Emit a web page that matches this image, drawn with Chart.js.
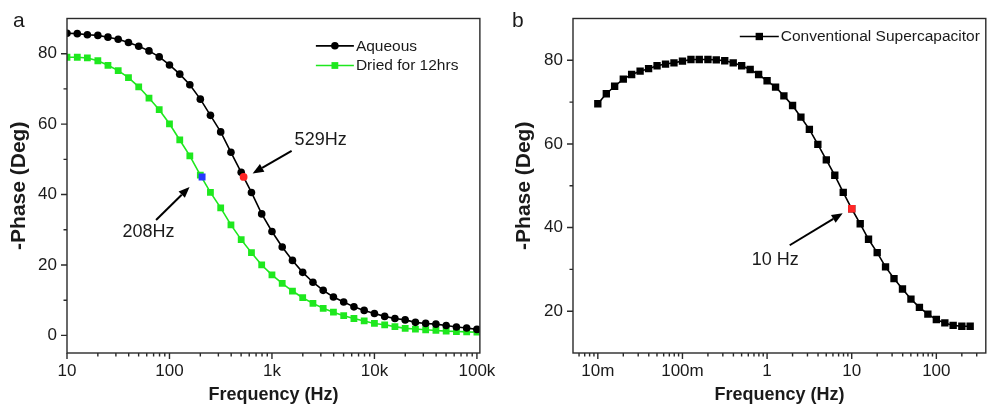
<!DOCTYPE html>
<html><head><meta charset="utf-8">
<script src="https://cdn.jsdelivr.net/npm/chart.js@4/dist/chart.umd.min.js"></script>
<style>
html,body{margin:0;padding:0;background:#fff;}
#wrap{position:relative;width:991px;height:414px;overflow:hidden;background:#fff;}
#ca{position:absolute;left:0;top:0;z-index:2;}
#cb{position:absolute;left:495px;top:0;z-index:1;}
</style></head><body>
<div id="wrap"><canvas id="ca" width="505" height="414"></canvas><canvas id="cb" width="496" height="414"></canvas></div>
<script>
// ---------- DATA ----------
const freqA = [10,12.6,15.8,20,25.1,31.6,39.8,50.1,63.1,79.4,
  100,126,158,200,251,316,398,501,631,794,
  1000,1259,1585,1995,2512,3162,3981,5012,6310,7943,
  10000,12589,15849,19953,25119,31623,39811,50119,63096,79433,100000];
const aqueousPhase = [85.8,85.7,85.4,85.2,84.7,84.1,83.2,82.1,80.8,79.1,
  76.8,74.2,71.2,67.1,62.5,57.8,52.0,46.3,40.6,34.5,
  29.5,25.1,21.3,17.9,15.1,12.8,10.9,9.5,8.1,7.1,
  6.2,5.4,4.8,4.4,3.7,3.4,3.2,2.8,2.4,2.1,1.7];
const driedPhase = [79.0,79.0,78.8,78.0,76.7,75.2,73.2,70.6,67.4,64.1,
  60.1,55.5,51.0,45.5,40.6,36.2,31.4,27.2,23.5,20.0,
  17.2,14.8,12.6,10.7,9.1,7.7,6.6,5.6,4.8,4.1,
  3.4,3.0,2.5,2.0,1.8,1.6,1.4,1.2,1.1,1.0,0.9];
const seriesLabelsA = ['Aqueous','Dried for 12hrs'];

const freqB = [0.01,0.0126,0.0158,0.02,0.0251,0.0316,0.0398,0.0501,0.0631,0.0794,
  0.1,0.126,0.158,0.2,0.251,0.316,0.398,0.501,0.631,0.794,
  1,1.26,1.58,2,2.51,3.16,3.98,5.01,6.31,7.94,
  10,12.6,15.8,20,25.1,31.6,39.8,50.1,63.1,79.4,
  100,126,158,200,251];
const convPhase = [69.6,72.0,73.8,75.5,76.6,77.4,78.0,78.7,79.1,79.4,
  79.8,80.2,80.2,80.2,80.1,79.9,79.4,78.7,77.8,76.6,
  75.1,73.6,71.5,69.2,66.4,63.5,59.9,56.2,52.5,48.4,
  44.5,40.9,37.2,34.0,30.6,27.8,25.3,22.9,20.9,19.3,
  18.0,17.2,16.6,16.4,16.4];
const seriesLabelsB = ['Conventional Supercapacitor'];

// highlighted points and their labels
const aqMarkFreq = [529], aqMarkPhase = [45], aqMarkLabel = ['529Hz'];
const drMarkFreq = [208], drMarkPhase = [45], drMarkLabel = ['208Hz'];
const cvMarkFreq = [10], cvMarkPhase = [44.5], cvMarkLabel = ['10 Hz'];

// axes
const xTicksA = [10,100,1000,10000,100000];
const xTickLabelsA = ['10','100','1k','10k','100k'];
const yTicksA = [0,20,40,60,80];
const yMinorA = [10,30,50,70];
const xTicksB = [0.01,0.1,1,10,100];
const xTickLabelsB = ['10m','100m','1','10','100'];
const yTicksB = [20,40,60,80];
const yMinorB = [30,50,70];
const xTitle = 'Frequency (Hz)';
const yTitle = '-Phase (Deg)';
const panelLabels = ['a','b'];

// ---------- STYLE ----------
const FONT = "'Liberation Sans', Arial, Helvetica, sans-serif";
const TXT = '#1a1a1a';
const GREEN = '#1ee81e', RED = '#ff2626', BLUE = '#2638ff', BLACK = '#000000';
Chart.defaults.font.family = FONT;
Chart.defaults.color = TXT;

const pts = (xs, ys) => xs.map((x, i) => ({x: x, y: ys[i]}));

function axesPlugin(minorY) {
  return { id: 'axesDeco', afterDraw(chart) {
    const {ctx, chartArea: a, scales: {x, y}} = chart;
    ctx.save();
    ctx.strokeStyle = '#2a2a2a'; ctx.lineWidth = 1.4;
    ctx.strokeRect(a.left, a.top, a.right - a.left, a.bottom - a.top);
    ctx.beginPath();
    x.ticks.forEach(t => { const p = x.getPixelForValue(t.value); ctx.moveTo(p, a.bottom); ctx.lineTo(p, a.bottom + 6); });
    const lo = Math.floor(Math.log10(x.min)), hi = Math.ceil(Math.log10(x.max));
    for (let d = lo; d <= hi; d++) for (let m = 2; m <= 9; m++) {
      const v = m * Math.pow(10, d);
      if (v > x.min && v < x.max) { const p = x.getPixelForValue(v); ctx.moveTo(p, a.bottom); ctx.lineTo(p, a.bottom + 3.5); }
    }
    y.ticks.forEach(t => { const p = y.getPixelForValue(t.value); ctx.moveTo(a.left, p); ctx.lineTo(a.left - 6, p); });
    minorY.forEach(v => { const p = y.getPixelForValue(v); ctx.moveTo(a.left, p); ctx.lineTo(a.left - 3.5, p); });
    ctx.stroke();
    ctx.restore();
  }};
}

function marker(ctx, style, r, x, y) {
  ctx.beginPath();
  if (style === 'rect') { const s = r * Math.SQRT1_2; ctx.rect(x - s, y - s, 2 * s, 2 * s); }
  else ctx.arc(x, y, r, 0, Math.PI * 2);
  ctx.fill();
}

function legendPlugin(items) {
  return { id: 'boxLegend', afterDraw(chart) {
    const {ctx, chartArea: a} = chart;
    ctx.save();
    items.forEach(it => {
      const ds = chart.data.datasets[it.ds];
      const y = a.top + it.dy;
      ctx.strokeStyle = ds.borderColor; ctx.lineWidth = 1.7;
      ctx.beginPath(); ctx.moveTo(a.right + it.x1, y); ctx.lineTo(a.right + it.x2, y); ctx.stroke();
      ctx.fillStyle = ds.pointBackgroundColor;
      marker(ctx, ds.pointStyle, ds.pointRadius, a.right + (it.x1 + it.x2) / 2, y);
      ctx.fillStyle = TXT; ctx.font = '15.5px ' + FONT; ctx.textBaseline = 'middle'; ctx.textAlign = 'left';
      ctx.fillText(ds.label, a.right + it.tx, y + 0.5);
    });
    ctx.restore();
  }};
}

function arrowPlugin(items) {
  return { id: 'arrows', afterDraw(chart) {
    const {ctx} = chart;
    ctx.save();
    items.forEach(it => {
      const el = chart.getDatasetMeta(it.ds).data[0];
      const px = el.x, py = el.y;
      const tx = px + it.tip[0], ty = py + it.tip[1];
      const sx = px + it.tail[0], sy = py + it.tail[1];
      const ang = Math.atan2(ty - sy, tx - sx);
      const L = 11, W = 4.5;
      const bx = tx - L * Math.cos(ang), by = ty - L * Math.sin(ang);
      ctx.strokeStyle = BLACK; ctx.fillStyle = BLACK; ctx.lineWidth = 2;
      ctx.beginPath(); ctx.moveTo(sx, sy); ctx.lineTo(bx, by); ctx.stroke();
      ctx.beginPath(); ctx.moveTo(tx, ty);
      ctx.lineTo(bx + W * Math.sin(ang), by - W * Math.cos(ang));
      ctx.lineTo(bx - W * Math.sin(ang), by + W * Math.cos(ang));
      ctx.closePath(); ctx.fill();
      ctx.fillStyle = TXT; ctx.font = '18px ' + FONT; ctx.textBaseline = 'middle'; ctx.textAlign = it.align;
      ctx.fillText(it.label, px + it.lab[0], py + it.lab[1]);
    });
    ctx.restore();
  }};
}

function letterPlugin(txt, x) {
  return { id: 'panelLetter', afterDraw(chart) {
    const ctx = chart.ctx; ctx.save();
    ctx.fillStyle = TXT; ctx.font = '21px ' + FONT; ctx.textBaseline = 'alphabetic'; ctx.textAlign = 'left';
    ctx.fillText(txt, x, 27); ctx.restore();
  }};
}

function scalesCfg(o) {
  return {
    x: {
      type: 'logarithmic', min: o.xmin, max: o.xmax,
      afterBuildTicks: s => { s.ticks = o.xTicks.map(v => ({value: v})); },
      afterFit: s => { s.height = o.xh; },
      ticks: { callback: (v, i) => o.xLabels[i], font: {size: 17, lineHeight: 1}, color: TXT, padding: 9.5, maxRotation: 0, autoSkip: false },
      grid: { display: false, drawTicks: false, tickLength: 0 },
      border: { display: false },
      title: { display: true, text: xTitle, color: TXT, font: {size: 18, weight: 'bold', lineHeight: 1}, padding: {top: 0, bottom: 9.5} }
    },
    y: {
      type: 'linear', min: o.ymin, max: o.ymax,
      afterBuildTicks: s => { s.ticks = o.yTicks.map(v => ({value: v})); },
      afterFit: s => { s.width = o.yw; },
      ticks: { font: {size: 17, lineHeight: 1}, color: TXT, padding: 10 },
      grid: { display: false, drawTicks: false, tickLength: 0 },
      border: { display: false },
      title: { display: true, text: yTitle, color: TXT, font: {size: 21, weight: 'bold', lineHeight: 1}, padding: {top: o.ytp, bottom: 0} }
    }
  };
}

const common = { responsive: false, animation: false, devicePixelRatio: 1,
  plugins: { legend: {display: false}, tooltip: {enabled: false}, title: {display: false} } };

// ---------- CHART A ----------
new Chart(document.getElementById('ca'), {
  type: 'line',
  data: { datasets: [
    { label: aqMarkLabel[0], data: pts(aqMarkFreq, aqMarkPhase), showLine: false, order: 0,
      pointStyle: 'circle', pointRadius: 3.9, pointBackgroundColor: RED, pointBorderWidth: 0, borderColor: RED },
    { label: drMarkLabel[0], data: pts(drMarkFreq, drMarkPhase), showLine: false, order: 0,
      pointStyle: 'rect', pointRadius: 4.9, pointBackgroundColor: BLUE, pointBorderWidth: 0, borderColor: BLUE },
    { label: seriesLabelsA[0], data: pts(freqA, aqueousPhase), order: 1, borderColor: BLACK, borderWidth: 1.6, tension: 0,
      pointStyle: 'circle', pointRadius: 3.8, pointBackgroundColor: BLACK, pointBorderWidth: 0 },
    { label: seriesLabelsA[1], data: pts(freqA, driedPhase), order: 2, borderColor: GREEN, borderWidth: 1.6, tension: 0,
      pointStyle: 'rect', pointRadius: 4.8, pointBackgroundColor: GREEN, pointBorderWidth: 0 }
  ]},
  options: Object.assign({}, common, {
    layout: { padding: {left: 0, top: 14, right: 22, bottom: 0} },
    scales: scalesCfg({xmin: 10, xmax: 106900, xTicks: xTicksA, xLabels: xTickLabelsA, xh: 61,
      ymin: -5, ymax: 90, yTicks: yTicksA, yw: 67, ytp: 8.5})
  }),
  plugins: [axesPlugin(yMinorA),
    legendPlugin([{ds: 2, x1: -164, x2: -126, tx: -124, dy: 27.3}, {ds: 3, x1: -164, x2: -126, tx: -124, dy: 47}]),
    arrowPlugin([{ds: 0, tip: [9, -3.5], tail: [48, -26], lab: [51, -37], align: 'left', label: aqMarkLabel[0]},
                 {ds: 1, tip: [-12.5, 10], tail: [-46, 43], lab: [-53.5, 55], align: 'center', label: drMarkLabel[0]}]),
    letterPlugin(panelLabels[0], 13)]
});

// ---------- CHART B ----------
new Chart(document.getElementById('cb'), {
  type: 'line',
  data: { datasets: [
    { label: cvMarkLabel[0], data: pts(cvMarkFreq, cvMarkPhase), showLine: false, order: 0,
      pointStyle: 'rect', pointRadius: 5.2, pointBackgroundColor: RED, pointBorderWidth: 0, borderColor: RED },
    { label: seriesLabelsB[0], data: pts(freqB, convPhase), order: 1, borderColor: BLACK, borderWidth: 1.6, tension: 0,
      pointStyle: 'rect', pointRadius: 5.2, pointBackgroundColor: BLACK, pointBorderWidth: 0 }
  ]},
  options: Object.assign({}, common, {
    layout: { padding: {left: 0, top: 11, right: 2, bottom: 0} },
    scales: scalesCfg({xmin: 0.00509, xmax: 384, xTicks: xTicksB, xLabels: xTickLabelsB, xh: 61,
      ymin: 10, ymax: 90, yTicks: yTicksB, yw: 78, ytp: 18.5})
  }),
  plugins: [axesPlugin(yMinorB),
    legendPlugin([{ds: 1, x1: -246, x2: -207, tx: -205, dy: 18}]),
    arrowPlugin([{ds: 0, tip: [-9, 4.5], tail: [-62, 36.5], lab: [-76.5, 51.5], align: 'center', label: cvMarkLabel[0]}]),
    letterPlugin(panelLabels[1], 17)]
});
</script>
</body></html>
